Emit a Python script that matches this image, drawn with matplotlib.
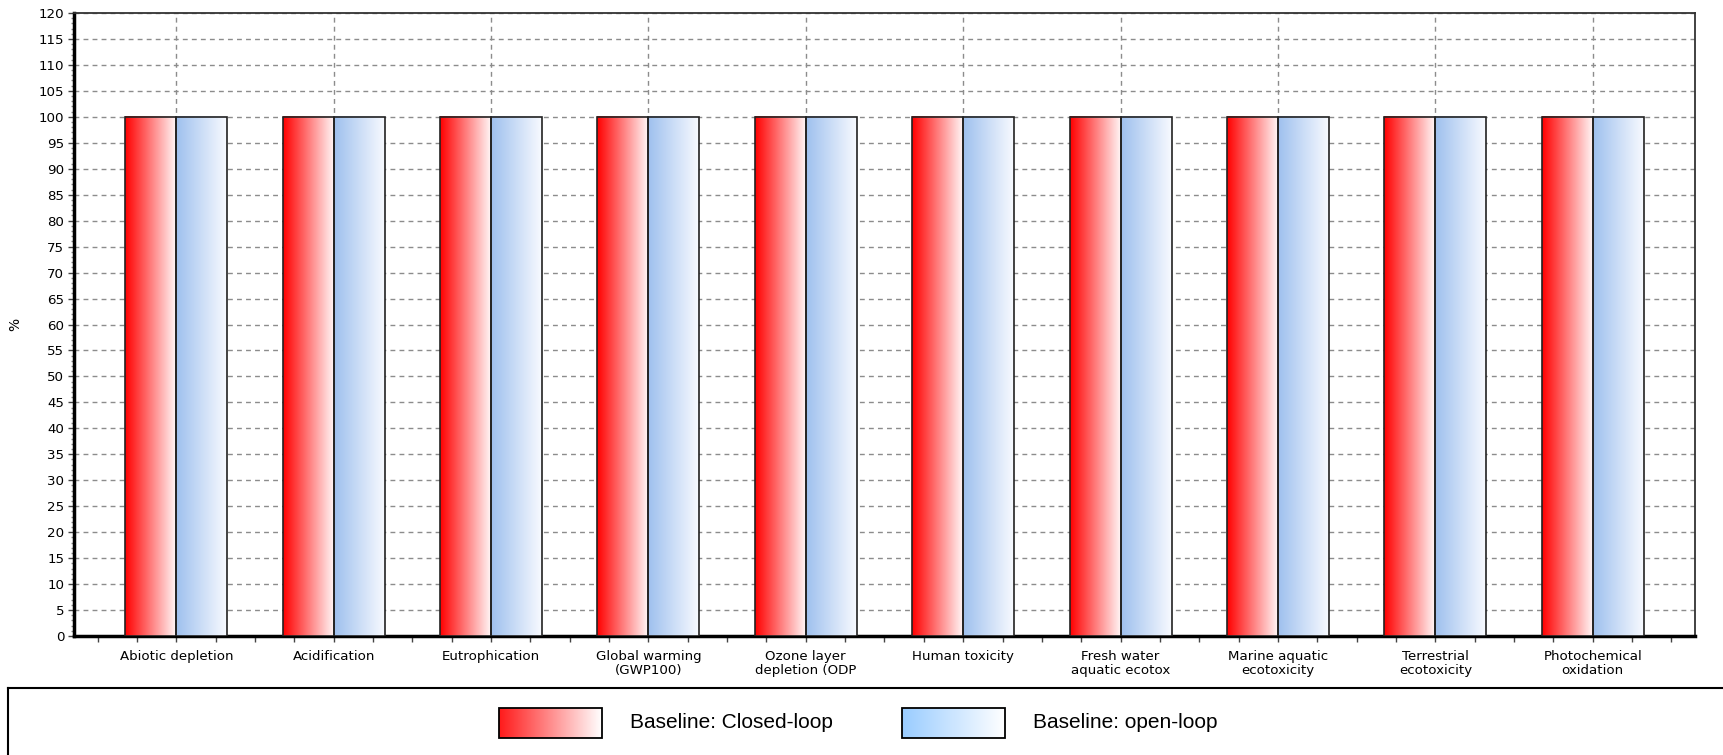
# grouped bar chart with gradient-filled bars, LCA impact categories
import matplotlib.pyplot as plt
import numpy as np
from matplotlib.colors import LinearSegmentedColormap

categories = ['Abiotic depletion', 'Acidification', 'Eutrophication',
              'Global warming\n(GWP100)', 'Ozone layer\ndepletion (ODP',
              'Human toxicity', 'Fresh water\naquatic ecotox',
              'Marine aquatic\necotoxicity', 'Terrestrial\necotoxicity',
              'Photochemical\noxidation']
closed_loop = [100, 100, 100, 100, 100, 100, 100, 100, 100, 100]
open_loop = [100, 100, 100, 100, 100, 100, 100, 100, 100, 100]
series_names = ['Baseline: Closed-loop', 'Baseline: open-loop']

red_cmap = LinearSegmentedColormap.from_list('red', ['#ff0000', '#fff6f6'])
blue_cmap = LinearSegmentedColormap.from_list('blue', ['#9ec0ee', '#f8faff'])
red_swatch = LinearSegmentedColormap.from_list('rs', ['#ff1a1a', '#ffffff'])
blue_swatch = LinearSegmentedColormap.from_list('bs', ['#99ccff', '#ffffff'])
grad = np.linspace(0, 1, 256).reshape(1, -1)

W, H = 1724, 755
fig = plt.figure(figsize=(W / 100, H / 100), dpi=100)
ax = fig.add_axes([74 / W, 1 - 636 / H, (1695 - 74) / W, (636 - 13) / H])

x = np.arange(len(categories))
width = 0.324
bars1 = ax.bar(x - width / 2, closed_loop, width, facecolor='none',
               edgecolor='#222222', linewidth=1.2, zorder=4)
bars2 = ax.bar(x + width / 2, open_loop, width, facecolor='none',
               edgecolor='#222222', linewidth=1.2, zorder=4)

# gradient fill inside each bar
for bars, cmap in [(bars1, red_cmap), (bars2, blue_cmap)]:
    for b in bars:
        x0, y0 = b.get_x(), b.get_y()
        ax.imshow(grad, cmap=cmap, aspect='auto', zorder=3,
                  extent=[x0, x0 + b.get_width(), y0, y0 + b.get_height()])

ax.set_xlim(-0.65, len(categories) - 1 + 0.65)
ax.set_ylim(0, 120)
ax.set_yticks(np.arange(0, 121, 5))
ax.set_yticks(np.arange(0, 121, 1), minor=True)
ax.set_xticks(x)
ax.set_xticklabels(categories, fontsize=9.6, linespacing=1.1)
ax.set_xticks(np.arange(-0.5, len(categories) - 0.4, 0.25), minor=True)
ax.tick_params(axis='y', labelsize=9.6, length=4, width=1, color='#444444', pad=3)
ax.tick_params(axis='y', which='minor', length=2, width=1, color='#888888')
ax.tick_params(axis='x', which='both', length=4, width=1, color='#444444', pad=6)
ax.set_ylabel('%', fontsize=10, labelpad=12)

ax.grid(True, which='major', linestyle=(0, (3.5, 3)), color='#8c8c8c', linewidth=1, zorder=0)
ax.set_axisbelow(True)

ax.spines['left'].set_linewidth(2.5)
ax.spines['bottom'].set_linewidth(2.5)
ax.spines['left'].set_color('black')
ax.spines['bottom'].set_color('black')
ax.spines['top'].set_color('#333333')
ax.spines['right'].set_color('#333333')
ax.spines['top'].set_linewidth(1.3)
ax.spines['right'].set_linewidth(1.3)

# legend panel at the bottom
lax = fig.add_axes([8 / W, -0.1, 1.0, (H - 688) / H + 0.1])
lax.set_xticks([])
lax.set_yticks([])
for s in lax.spines.values():
    s.set_linewidth(1.5)
    s.set_color('black')

legend_items = [(series_names[0], red_swatch, 489), (series_names[1], blue_swatch, 890)]
for name, cmap, sx in legend_items:
    lax.imshow(grad, cmap=cmap, aspect='auto', extent=[sx, sx + 102, 738, 708], zorder=2)
    lax.add_patch(plt.Rectangle((sx, 708), 102, 30, fill=False, edgecolor='black',
                                linewidth=1.3, zorder=3))
    lax.text(sx + 130, 723, name, fontsize=15, family='Liberation Sans', va='center', ha='left')
lax.set_xlim(0, W - 8)
lax.set_ylim(H + 0.1 * H, 688)

fig.savefig('out.png', dpi=100)
